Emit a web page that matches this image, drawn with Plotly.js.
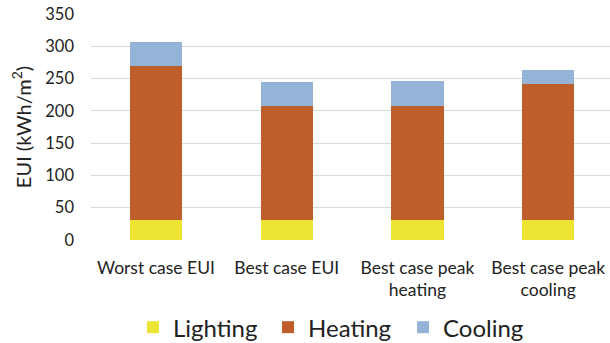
<!DOCTYPE html>
<html>
<head>
<meta charset="utf-8">
<script src="https://cdn.plot.ly/plotly-3.0.1.min.js"></script>
<style>html,body{margin:0;padding:0;background:#fff;overflow:hidden}#chart{width:610px;height:343px}</style>
</head>
<body>
<div id="chart"></div>
<script>
const categories = ["Worst case EUI", "Best case EUI", "Best case peak<br>heating", "Best case peak<br>cooling"];
const lighting = [31, 31, 31, 31];
const heating = [239, 176, 177, 211];
const cooling = [37, 37, 38, 22];
const yTicks = [0, 50, 100, 150, 200, 250, 300, 350];

const font = "Lato, 'Open Sans', sans-serif";
const traces = [
  {name: "Lighting", y: lighting, color: "#ECE533"},
  {name: "Heating", y: heating, color: "#BE5F2B"},
  {name: "Cooling", y: cooling, color: "#95B3D7"}
].map(s => ({
  type: "bar", x: categories, y: s.y, name: s.name,
  marker: {color: s.color, line: {width: 0}},
  hoverinfo: "none"
}));

const layout = {
  width: 610, height: 343,
  margin: {l: 91, r: 0, t: 14, b: 103},
  barmode: "stack",
  bargap: 0.6,
  paper_bgcolor: "#fff", plot_bgcolor: "#fff",
  font: {family: font, color: "#222", size: 15},
  xaxis: {
    range: [-0.497, 3.473], automargin: false,
    showgrid: false, zeroline: false, showline: false,
    ticks: "", ticklabelstandoff: 15,
    tickfont: {size: 17.5, color: "#222"}
  },
  yaxis: {
    range: [0, 350], tickvals: yTicks, automargin: false,
    showgrid: true, gridcolor: "#d9d9d9", gridwidth: 1,
    zeroline: false, showline: false, ticks: "",
    ticklabelstandoff: 16,
    tickfont: {size: 16.5, color: "#222"},
    title: {text: "EUI (kWh/m<sup>2</sup>)", font: {size: 20, color: "#222"}, standoff: 8}
  },
  legend: {
    orientation: "h", x: 0.081, xanchor: "left",
    yref: "container", y: 0.045, yanchor: "middle",
    font: {size: 24, color: "#222"}, itemwidth: 30, entrywidth: 90, entrywidthmode: "pixels",
    traceorder: "normal"
  },
  showlegend: true
};

Plotly.newPlot("chart", traces, layout, {displayModeBar: false, staticPlot: true});
</script>
</body>
</html>
